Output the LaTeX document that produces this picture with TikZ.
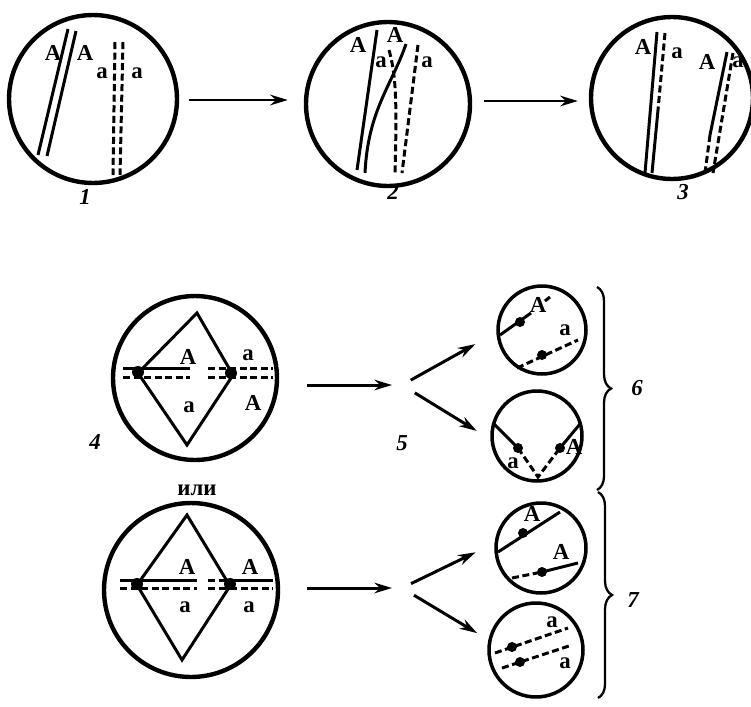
\documentclass[tikz,border=0pt]{standalone}
\usepackage{fontspec}
\setmainfont{Liberation Serif}
\usetikzlibrary{arrows.meta,decorations.pathreplacing}

\begin{document}
\begin{tikzpicture}[x=0.02cm,y=-0.02cm]

\tikzset{cell/.style = {shape=circle,draw,line width=2.5pt,inner sep=0pt}}
\tikzset{small/.style = {cell,line width=2pt,minimum size=1.8cm}}
\tikzset{gene/.style = {font=\fontsize{13}{13}\selectfont\bfseries,inner sep=0pt}}
\tikzset{num/.style = {font=\fontsize{13}{13}\selectfont\bfseries\itshape,inner sep=0pt}}
\tikzset{chrA/.style = {line width=1.7pt}}
\tikzset{chra/.style = {line width=1.7pt,dash pattern=on 4pt off 2pt}}
\tikzset{edge/.style = {-{Stealth[length=10pt,width=6pt]},line width=1.7pt}}
\tikzset{group/.style = {decorate,decoration={brace,amplitude=8pt},line width=1.3pt}}

\useasboundingbox (0,0) rectangle (751,707);

%cells
\node[cell,minimum size=3.36cm] (1) at (93,99) {};
\node[cell,minimum size=3.28cm] (2) at (388,104) {};
\node[cell,minimum size=3.24cm] (3) at (672,98) {};
\node[cell,minimum size=3.28cm] (4) at (195,378) {};
\node[cell,minimum size=3.48cm] (4or) at (191,590) {};
\node[small,minimum size=1.76cm] (6a) at (542,330) {};
\node[small] (6b) at (537,436) {};
\node[small] (7a) at (541,548) {};
\node[small,minimum size=1.88cm] (7b) at (536,650) {};
\coordinate (f4) at (402,385);
\coordinate (f4or) at (402,588);

%numbers
\node[num] (n1) at (85,197) {1};
\node[num] (n2) at (393,192) {2};
\node[num] (n3) at (683,192) {3};
\node[num] (n4) at (95,442) {4};
\node[num] (n5) at (402,443) {5};
\node[num] (n6) at (637,388) {6};
\node[num] (n7) at (633,600) {7};
\node[gene] (or) at (197,490) {или};

%cell 1
\draw[chrA] (68,29) -- (38,155);
\draw[chrA] (76,31) -- (47,156);
\draw[chra] (115,42) -- (113,175);
\draw[chra] (123,42) -- (120,175);
\node[gene] (g1A1) at (53,53) {A};
\node[gene] (g1A2) at (85,53) {A};
\node[gene] (g1a1) at (102,73) {a};
\node[gene] (g1a2) at (137,73) {a};

%cell 2
\draw[chrA] (377,30) -- (357,170);
\draw[chrA] (406,44) .. controls (392,85) and (368,110) .. (365,173);
\draw[chra] (389,50) .. controls (396,75) and (397,100) .. (395,173);
\draw[chra] (418,45) -- (402,173);
\node[gene] (g2A1) at (358,45) {A};
\node[gene] (g2A2) at (395,35) {A};
\node[gene] (g2a1) at (381,62) {a};
\node[gene] (g2a2) at (427,62) {a};

%cell 3
\draw[chrA] (657,32) -- (645,173);
\draw[chra] (665,33) -- (658,110);
\draw[chrA] (658,110) -- (652,173);
\draw[chrA] (727,52) -- (710,135);
\draw[chra] (710,135) -- (705,173);
\draw[chra] (733,53) -- (713,173);
\node[gene] (g3A1) at (643,47) {A};
\node[gene] (g3a1) at (677,53) {a};
\node[gene] (g3A2) at (707,62) {A};
\node[gene] (g3a2) at (738,62) {a};

%cell 4
\draw[line width=1.7pt] (197,313) -- (233,375) -- (187,445) -- (138,373) -- cycle;
\draw[chrA] (123,368) -- (190,368);
\draw[chra] (123,377) -- (190,377);
\draw[chra] (208,368) -- (273,368);
\draw[chra] (208,377) -- (273,377);
\fill (138,372) circle (6);
\fill (231,373) circle (6);
\node[gene] (g4A1) at (188,357) {A};
\node[gene] (g4a1) at (189,407) {a};
\node[gene] (g4a2) at (248,355) {a};
\node[gene] (g4A2) at (253,403) {A};

%cell 4, second way
\draw[line width=1.7pt] (187,515) -- (230,586) -- (182,660) -- (137,585) -- cycle;
\draw[chrA] (120,580) -- (197,580);
\draw[chra] (120,588) -- (197,588);
\draw[chra] (208,580) -- (228,580);
\draw[chra] (208,588) -- (228,588);
\draw[chrA] (230,580) -- (273,580);
\draw[chra] (230,588) -- (273,588);
\fill (137,584) circle (6);
\fill (230,584) circle (6);
\node[gene] (g5A1) at (187,567) {A};
\node[gene] (g5a1) at (185,607) {a};
\node[gene] (g5A2) at (250,567) {A};
\node[gene] (g5a2) at (249,607) {a};

%cell 6a
\draw[chrA] (500,335) -- (531,313);
\draw[chra] (545,301) -- (550,297);
\draw[chra] (517,368) -- (578,340);
\fill (520,322) circle (5);
\fill (542,355) circle (5);
\node[gene] (g6A) at (538,305) {A};
\node[gene] (g6a) at (565,330) {a};

%cell 6b
\draw[chrA] (494,424) -- (518,448);
\draw[chra] (518,448) -- (538,477) -- (560,448);
\draw[chrA] (560,448) -- (580,424);
\fill (518,448) circle (5);
\fill (560,448) circle (5);
\node[gene] (g6ba) at (513,463) {a};
\node[gene] (g6bA) at (574,447) {A};

%cell 7a
\draw[chrA] (498,552) -- (560,512);
\draw[chra] (512,578) -- (542,572);
\draw[chrA] (542,572) -- (578,563);
\fill (523,533) circle (5);
\fill (542,572) circle (5);
\node[gene] (g7A1) at (532,514) {A};
\node[gene] (g7A2) at (561,552) {A};

%cell 7b
\draw[chra] (495,653) -- (568,628);
\draw[chra] (502,668) -- (572,645);
\fill (512,647) circle (5);
\fill (520,662) circle (5);
\node[gene] (g7a1) at (552,622) {a};
\node[gene] (g7a2) at (565,663) {a};

%edges
\draw[edge,shorten <=0.2cm,shorten >=0.32cm] (1.east |- 0,100) -- (2.west |- 0,100);
\draw[edge,shorten <=0.24cm,shorten >=0.22cm] (2.east |- 0,101) -- (3.west |- 0,101);
\draw[edge,shorten <=0.56cm,shorten >=0.2cm] (4.east |- f4) -- (f4);
\draw[edge,shorten <=0.2cm,shorten >=0.48cm] (f4) -- (6a.183);
\draw[edge,shorten <=0.3cm,shorten >=0.32cm] (f4) -- (6b.184);
\draw[edge,shorten <=0.54cm,shorten >=0.2cm] (4or.east |- f4or) -- (f4or);
\draw[edge,shorten <=0.2cm,shorten >=0.42cm] (f4or) -- (7a.174);
\draw[edge,shorten <=0.28cm,shorten >=0.26cm] (f4or) -- (7b.168);

%braces
\draw[group] (597,287) -- (597,490);
\draw[group] (598,492) -- (598,698);
\end{tikzpicture}
\end{document}
